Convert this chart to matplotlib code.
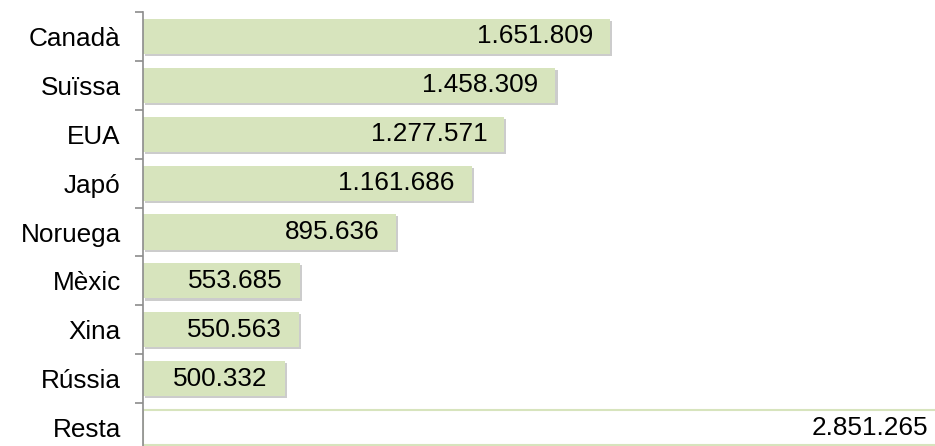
import matplotlib
matplotlib.use("Agg")
import matplotlib.pyplot as plt
import matplotlib.patheffects as pe
import numpy as np

plt.rcParams["font.family"] = ["Liberation Sans", "DejaVu Sans"]

countries = ["Canadà", "Suïssa", "EUA", "Japó", "Noruega", "Mèxic", "Xina", "Rússia", "Resta"]
values = [1651809, 1458309, 1277571, 1161686, 895636, 553685, 550563, 500332, 2851265]
labels = ["1.651.809", "1.458.309", "1.277.571", "1.161.686", "895.636",
          "553.685", "550.563", "500.332", "2.851.265"]

green = "#D7E4BD"
x_max = 2.8e6
font_size = 18.8

fig = plt.figure(figsize=(9.35, 4.46), dpi=100)
ax = fig.add_axes([143 / 935, -6 / 446, 1 - 143 / 935, 440 / 446])

y = np.arange(len(countries))
shadow = [pe.SimplePatchShadow(offset=(1.5, -1.5), shadow_rgbFace="#9a9a9a", alpha=0.5), pe.Normal()]

for i, (name, val, lab) in enumerate(zip(countries, values, labels)):
    if name == "Resta":
        ax.barh(i, val, height=0.72, color="white", edgecolor=green, linewidth=1.5)
        pad = -7
    else:
        bar = ax.barh(i, val, height=0.72, color=green, edgecolor="none")
        bar[0].set_path_effects(shadow)
        pad = -17
    # the last bar runs past the axis end, so its label sits at the edge
    end = min(val, x_max)
    ax.annotate(lab, xy=(end, i), xytext=(pad, 0), textcoords="offset pixels",
                ha="right", va="center", fontsize=font_size, color="black")

ax.set_xlim(0, x_max)
ax.set_ylim(len(countries) - 0.5, -0.5)

ax.set_yticks(y)
ax.set_yticklabels(countries, fontsize=font_size)
ax.set_yticks(np.arange(len(countries) + 1) - 0.5, minor=True)
ax.tick_params(axis="y", which="major", length=0, pad=16)
ax.tick_params(axis="y", which="minor", length=6, width=1.2, color="#8c8c8c", direction="out")
ax.set_xticks([])

for side in ["top", "right", "bottom"]:
    ax.spines[side].set_visible(False)
ax.spines["left"].set_color("#8c8c8c")
ax.spines["left"].set_linewidth(1.2)

fig.savefig("out.png", dpi=100)
